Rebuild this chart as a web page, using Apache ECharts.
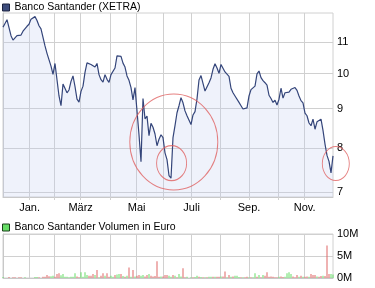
<!DOCTYPE html>
<html><head><meta charset="utf-8">
<script src="https://cdn.jsdelivr.net/npm/echarts@6/dist/echarts.min.js"></script>
<style>html,body{margin:0;padding:0;background:#fff}#c{width:375px;height:288px}</style>
</head><body><div id="c"></div>
<script>
// Closing prices (EUR), sampled evenly over the period
const price = [
11.50,11.63,11.76,11.72,11.21,11.06,11.10,11.21,11.15,11.23,
11.36,11.38,11.53,11.60,11.78,11.82,11.87,11.73,11.55,11.44,
11.44,10.87,10.63,10.57,10.23,9.98,10.31,10.29,9.35,9.08,
9.69,9.70,9.44,9.52,9.77,9.93,9.62,9.26,9.18,9.48,
9.63,10.04,10.33,10.34,10.28,10.27,10.20,10.31,9.97,9.82,
9.75,9.97,9.83,9.74,9.97,10.00,10.17,10.55,10.60,10.53,
10.32,10.20,9.93,9.80,9.59,9.24,9.59,8.94,8.32,7.67,
9.28,8.73,8.80,8.30,8.61,8.51,8.34,8.05,8.21,8.32,
8.25,7.88,7.72,7.36,7.30,8.25,8.55,8.89,9.08,9.30,
9.16,8.94,8.81,8.85,8.58,8.83,8.92,9.27,9.81,9.94,
9.98,9.49,9.53,9.73,9.87,10.13,10.30,10.17,10.01,10.28,
10.24,10.05,10.10,9.92,9.57,9.44,9.35,9.33,9.17,9.08,
8.99,9.01,9.02,9.35,9.53,9.54,9.63,9.99,10.08,9.88,
9.79,9.73,9.66,9.37,9.28,9.17,9.23,9.10,9.26,9.57,
9.29,9.44,9.40,9.46,9.54,9.59,9.59,9.51,9.35,9.22,
9.16,8.88,8.81,8.62,8.55,8.72,8.46,8.65,8.63,8.72,
8.43,8.09,7.82,7.68,7.42,7.81
];
// Volume in million EUR, same sampling
const volume = [
0.2,0,0,0.2,0,0.15,0.15,0,0.15,0.15,
0,0.15,0,0,0,0,0.2,0.2,0.15,0,
0.3,0.3,0.7,0.4,0.4,0.5,0.3,0.9,1.1,0.6,
0.9,0.3,0.3,0.15,0.3,0.3,1.1,0.35,0.15,1.3,
0.3,1.3,0.7,0.5,0.5,0.9,0.7,1.8,0.15,0.5,
1.1,0.5,1.1,0.3,0.5,0.3,0.7,0.8,0.9,0.9,
0.45,0.3,0.5,2.4,0.3,1.8,0.35,0.5,0.7,0.5,
0.7,0.35,0.7,0.9,0.5,0.35,0.45,3.8,0.3,0.35,
0.35,0.7,0.7,0.5,0.3,0.7,0.5,0.15,0.9,0.35,
2.2,0.15,0.3,0,0.15,0.15,0.2,0.5,0.3,0.2,
0.15,0.15,0.15,0.3,0.3,0.3,0.3,0.3,0.3,0.35,
0.35,1.5,0.15,0.7,0.3,0.35,0.5,0.5,0.2,0.15,
0.15,0.15,0.3,0.15,0.15,0.15,1.1,0.3,0.7,0.15,
0.7,0.5,1.3,0.3,0.35,0.3,0.15,0.15,0.3,0.35,
0.2,0.3,1.1,1.3,0.9,0.35,0.15,0.7,0.3,0.5,
0.3,0.3,0.35,0.3,0.9,0.7,0.7,0.35,0.3,0.45,
0.5,0.45,7.4,0.9,0.9,0.8
];
// g = up day (green), r = down day (red)
const volDir = (
'grrrrrrrrr' +
'rgrrrrggrr' +
'rrrrggrrrg' +
'gggggggrrg' +
'gggrrrgrgr' +
'rgrrggrggr' +
'grgrgrgrrg' +
'grrgrrrrrg' +
'rrrggrgrgg' +
'rrgrgrggrg' +
'rgrggrgrrg' +
'rrgrgrgggr' +
'grrgrggrgr' +
'grrrrrrrgr' +
'rggggrrrgr' +
'grrgrrrgrr' +
'grrrgg').split('');
const monthTicks = [13.3, 25.8, 38.8, 53.8, 66.8, 80.3, 94.3, 108.8, 123, 137.5, 150.8];
const monthNames = ['Jan.', 'Feb.', 'März', 'Apr.', 'Mai', 'Juni', 'Juli', 'Aug.', 'Sep.', 'Okt.', 'Nov.'];
const labelMonths = [0, 2, 4, 6, 8, 10];
const priceTicks = [7, 8, 9, 10, 11];
const volTicks = [0, 5, 10];
// centres of the hand-drawn red highlight circles (index, price)
const highlights = [[85.4, 8.14], [84.3, 7.64], [166.4, 7.63]];

const FONT = 'Liberation Sans, Arial, sans-serif';
const GRID_C = '#d0d0d0';
const labelVals = labelMonths.map(k => monthTicks[k]);
function monthName(v) {
  let best = 0, d = 1e9;
  monthTicks.forEach((t, k) => { if (Math.abs(t - v) < d) { d = Math.abs(t - v); best = k; } });
  return monthNames[best];
}
const chart = echarts.init(document.getElementById('c'), null, {renderer: 'canvas'});
const circleSizes = [[88, 96], [30, 35], [27, 34]];
chart.setOption({
  animation: false,
  textStyle: {fontFamily: FONT},
  legend: [
    {left: 2, top: 2, padding: 0, itemWidth: 7, itemHeight: 7, selectedMode: false,
     textStyle: {fontSize: 10.5, color: '#000', fontFamily: FONT},
     data: [{name: 'Banco Santander (XETRA)', icon: 'rect',
             itemStyle: {color: '#3d4c7c', borderColor: '#1c2340', borderWidth: 1}}]},
    {left: 2, top: 222, padding: 0, itemWidth: 7, itemHeight: 7, selectedMode: false,
     textStyle: {fontSize: 10.5, color: '#000', fontFamily: FONT},
     data: [{name: 'Banco Santander Volumen in Euro', icon: 'rect',
             itemStyle: {color: '#66dd66', borderColor: '#1c401c', borderWidth: 1}}]}
  ],
  grid: [
    {left: 3, right: 42, top: 13, height: 184, show: true, borderColor: GRID_C, borderWidth: 1, containLabel: false},
    {left: 3, right: 42, top: 234, height: 44, show: true, borderColor: GRID_C, borderWidth: 1, containLabel: false}
  ],
  xAxis: [
    {type: 'value', gridIndex: 0, min: 0, max: 165,
     axisLine: {show: true, lineStyle: {color: '#c8c8c8'}},
     axisTick: {show: true, length: 3, customValues: monthTicks, lineStyle: {color: GRID_C}},
     splitLine: {show: true, lineStyle: {color: GRID_C}},
     axisLabel: {customValues: labelVals, formatter: monthName, fontSize: 11, color: '#000', margin: 5, fontFamily: FONT}},
    {type: 'value', gridIndex: 1, min: 0, max: 165,
     axisLine: {show: true, lineStyle: {color: '#c8c8c8'}},
     axisTick: {show: false, customValues: monthTicks},
     splitLine: {show: true, lineStyle: {color: GRID_C}},
     axisLabel: {show: false}}
  ],
  yAxis: [
    {type: 'log', logBase: 10, gridIndex: 0, min: 6.9, max: 12, position: 'right',
     axisLine: {show: true, lineStyle: {color: '#c8c8c8'}},
     axisTick: {show: false, customValues: priceTicks},
     splitLine: {show: true, lineStyle: {color: GRID_C}},
     axisLabel: {customValues: priceTicks, fontSize: 11, color: '#000', margin: 4, fontFamily: FONT}},
    {type: 'value', gridIndex: 1, min: 0, max: 10, interval: 5, position: 'right',
     axisLine: {show: true, lineStyle: {color: '#c8c8c8'}},
     axisTick: {show: false},
     splitLine: {show: true, lineStyle: {color: GRID_C}},
     axisLabel: {formatter: v => v + 'M', fontSize: 11, color: '#000', margin: 4, fontFamily: FONT}}
  ],
  series: [
    {name: 'Banco Santander (XETRA)', type: 'line', xAxisIndex: 0, yAxisIndex: 0,
     data: price.map((v, i) => [i, v]), showSymbol: false, symbol: 'none',
     lineStyle: {color: '#34457a', width: 1.2}, itemStyle: {color: '#3d4c7c'},
     areaStyle: {color: 'rgba(190,205,240,0.25)', opacity: 1, origin: 'start'}, silent: true},
    {name: 'highlights', type: 'scatter', xAxisIndex: 0, yAxisIndex: 0, clip: false, silent: true,
     data: highlights.map((p, k) => ({value: p, symbolSize: circleSizes[k]})),
     symbol: 'circle',
     itemStyle: {color: 'rgba(0,0,0,0)', borderColor: '#e06262', borderWidth: 1}, z: 5},
    {name: 'Banco Santander Volumen in Euro', type: 'bar', xAxisIndex: 1, yAxisIndex: 1,
     barWidth: 1, silent: true,
     data: volume.map((v, i) => ({value: [i, v], itemStyle: {color: volDir[i] === 'g' ? '#66dd66' : '#e06666'}}))}
  ]
});
</script></body></html>
